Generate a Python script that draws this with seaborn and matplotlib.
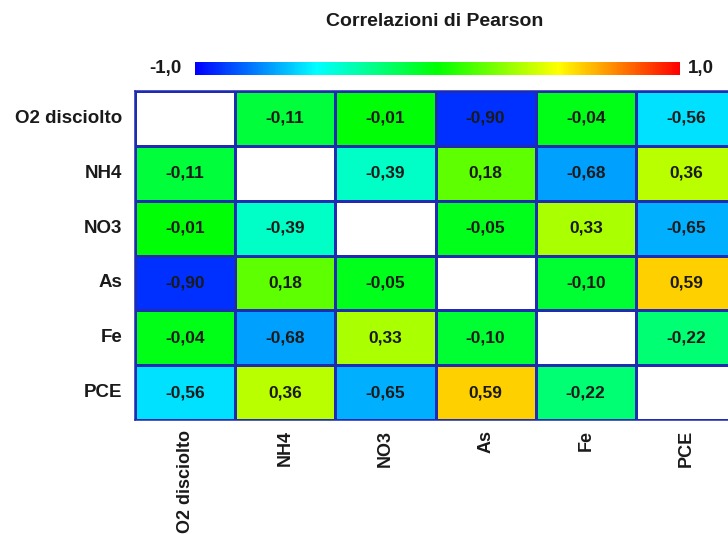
import numpy as np
import pandas as pd
import matplotlib
matplotlib.use("Agg")
import matplotlib.pyplot as plt
import seaborn as sns
from matplotlib.colors import LinearSegmentedColormap

# variables and Pearson correlations
variables = ["O2 disciolto", "NH4", "NO3", "As", "Fe", "PCE"]
row_o2 = [1.00, -0.11, -0.01, -0.90, -0.04, -0.56]
row_nh4 = [-0.11, 1.00, -0.39, 0.18, -0.68, 0.36]
row_no3 = [-0.01, -0.39, 1.00, -0.05, 0.33, -0.65]
row_as = [-0.90, 0.18, -0.05, 1.00, -0.10, 0.59]
row_fe = [-0.04, -0.68, 0.33, -0.10, 1.00, -0.22]
row_pce = [-0.56, 0.36, -0.65, 0.59, -0.22, 1.00]

corr = pd.DataFrame([row_o2, row_nh4, row_no3, row_as, row_fe, row_pce],
                    index=variables, columns=variables)
labels = corr.map(lambda v: f"{v:.2f}".replace(".", ","))
mask = np.eye(len(variables), dtype=bool)

cmap = LinearSegmentedColormap.from_list(
    "pearson", ["#0000ff", "#00ffff", "#00ff00", "#ffff00", "#ff0000"])

sns.set_style("white")
plt.rcParams["font.family"] = ["Liberation Sans", "DejaVu Sans"]

W, H = 728, 534
fig = plt.figure(figsize=(W / 100, H / 100), dpi=100)
ax = fig.add_axes([135 / W, (H - 420) / H, 601 / W, 329 / H])
cax = fig.add_axes([195 / W, (H - 75) / H, 485 / W, 13 / H])

line_col = "#1f2bb0"
txt_col = "#1a1a1a"
sns.heatmap(corr, mask=mask, cmap=cmap, vmin=-1, vmax=1, annot=labels, fmt="",
            annot_kws={"fontsize": 12.5, "fontweight": "bold", "color": txt_col},
            linewidths=0.9, linecolor=line_col, square=False, ax=ax,
            cbar_ax=cax, cbar_kws={"orientation": "horizontal"})

for s in ax.spines.values():
    s.set_visible(True)
    s.set_color(line_col)
    s.set_linewidth(1.1)

ax.tick_params(length=0)
ax.set_xticklabels(variables, rotation=90, fontsize=13, fontweight="bold",
                   color=txt_col, va="top")
ax.set_yticklabels(variables, rotation=0, fontsize=13.5, fontweight="bold",
                   color=txt_col)
ax.tick_params(axis="x", pad=7)
ax.tick_params(axis="y", pad=9)
ax.set_xlabel("")
ax.set_ylabel("")

cax.set_xticks([])
cax.set_yticks([])
for s in cax.spines.values():
    s.set_visible(False)
cbar = ax.collections[0].colorbar
if cbar is not None:
    cbar.outline.set_visible(False)

fig.text(181 / W, (H - 68) / H, "-1,0", ha="right", va="center",
         fontsize=13.5, fontweight="bold", color=txt_col)
fig.text(688 / W, (H - 68) / H, "1,0", ha="left", va="center",
         fontsize=13.5, fontweight="bold", color=txt_col)
fig.text(435 / W, (H - 22) / H, "Correlazioni di Pearson", ha="center",
         va="center", fontsize=14, fontweight="bold", color=txt_col)

fig.savefig("out.png", dpi=100, facecolor="white")
